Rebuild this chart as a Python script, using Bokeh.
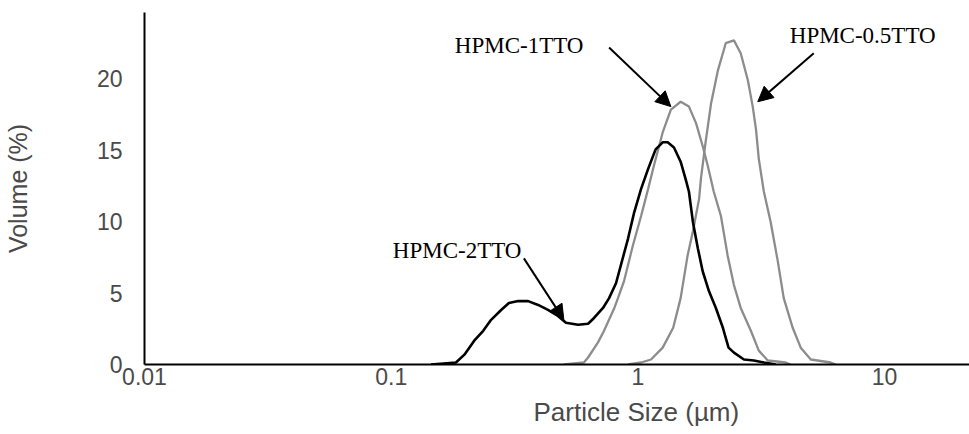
import math
from bokeh.plotting import figure
from bokeh.models import Range1d, FixedTicker, CustomJSTickFormatter, Label, Arrow, NormalHead, Title
from bokeh.embed import file_html
from bokeh.resources import INLINE

# ---- data (particle size in µm, volume in %) ----
size_2tto = [0.145, 0.183, 0.198, 0.217, 0.236, 0.254, 0.279, 0.300, 0.327, 0.359,
             0.394, 0.432, 0.474, 0.511, 0.572, 0.628, 0.664, 0.722, 0.764, 0.815,
             0.912, 0.964, 1.03, 1.10, 1.18, 1.26, 1.32, 1.40, 1.49, 1.56,
             1.61, 1.67, 1.75, 1.83, 1.94, 2.07, 2.21, 2.33, 2.45, 2.69,
             2.95, 3.24, 3.62]
vol_2tto = [0.0, 0.14, 0.69, 1.67, 2.36, 3.13, 3.82, 4.31, 4.44, 4.44,
            4.17, 3.82, 3.40, 2.92, 2.78, 2.85, 3.26, 3.96, 4.65, 5.69,
            8.82, 10.6, 12.3, 13.7, 15.07, 15.56, 15.56, 15.2, 14.2, 13.0,
            12.1, 10.0, 8.13, 6.53, 5.14, 3.96, 2.57, 1.18, 0.83, 0.35,
            0.28, 0.14, 0.0]

size_1tto = [0.501, 0.604, 0.628, 0.689, 0.728, 0.757, 0.800, 0.830, 0.878, 0.954,
             1.03, 1.10, 1.16, 1.26, 1.36, 1.49, 1.61, 1.72, 1.83, 1.92,
             2.03, 2.17, 2.31, 2.45, 2.61, 2.87, 3.09, 3.36, 3.97, 4.16]
vol_1tto = [0.0, 0.14, 0.49, 1.55, 2.35, 3.0, 3.9, 4.65, 5.83, 8.33,
            10.4, 12.3, 13.9, 16.25, 17.85, 18.4, 18.06, 16.9, 15.3, 13.9,
            12.1, 10.4, 7.64, 5.56, 3.96, 2.36, 0.97, 0.28, 0.14, 0.0]

size_05tto = [0.912, 1.03, 1.13, 1.26, 1.39, 1.49, 1.59, 1.67, 1.77, 1.80,
              1.88, 1.98, 2.11, 2.27, 2.45, 2.61, 2.79, 2.92, 3.01, 3.09,
              3.24, 3.45, 3.69, 3.90, 4.24, 4.57, 5.02, 6.04, 6.33]
vol_05tto = [0.0, 0.14, 0.35, 1.18, 2.57, 4.65, 7.64, 9.31, 11.6, 13.0,
             15.56, 18.3, 20.6, 22.5, 22.7, 21.8, 19.9, 18.06, 16.46, 14.4,
             12.1, 10.0, 7.22, 4.65, 2.57, 1.18, 0.35, 0.14, 0.0]

x_ticks = [0.01, 0.1, 1, 10]
x_tick_labels = ["0.01", "0.1", "1", "10"]
y_ticks = [0, 5, 10, 15, 20]

SANS = "Liberation Sans"
SERIF = "Liberation Serif"
TICK_COLOR = "#4a4a4a"

p = figure(width=969, height=434, x_axis_type="log",
           x_range=Range1d(0.01, 22.08), y_range=Range1d(0, 24.65),
           output_backend="svg", toolbar_location=None,
           min_border_left=143, min_border_right=0,
           min_border_top=12, min_border_bottom=67)
p.grid.visible = False
p.outline_line_color = None

p.line(size_05tto, vol_05tto, line_color="#8c8c8c", line_width=2.3)
p.line(size_1tto, vol_1tto, line_color="#8c8c8c", line_width=2.3)
p.line(size_2tto, vol_2tto, line_color="#000000", line_width=2.6)

p.xaxis.ticker = FixedTicker(ticks=x_ticks)
p.xaxis.formatter = CustomJSTickFormatter(
    args=dict(vals=x_ticks, labels=x_tick_labels),
    code="const i = vals.findIndex(v => Math.abs(v - tick) < 1e-9 * Math.max(1, Math.abs(v))); return i >= 0 ? labels[i] : '';")
p.yaxis.ticker = FixedTicker(ticks=y_ticks)

for ax in (p.xaxis, p.yaxis):
    ax.axis_line_color = "black"
    ax.axis_line_width = 2
    ax.major_tick_line_color = None
    ax.minor_tick_line_color = None
    ax.major_label_text_font = SANS
    ax.major_label_text_font_size = "23px"
    ax.major_label_text_color = TICK_COLOR
p.xaxis.major_label_standoff = -3
p.yaxis.major_label_standoff = 16

# y axis title
p.yaxis.axis_label = "Volume (%)"
p.yaxis.axis_label_standoff = 62
p.yaxis.axis_label_text_font = SANS
p.yaxis.axis_label_text_font_size = "25px"
p.yaxis.axis_label_text_font_style = "normal"
p.yaxis.axis_label_text_color = TICK_COLOR

# x axis title (offset to the right like the original)
p.add_layout(Title(text="Particle Size (µm)", align="left", offset=389, standoff=15,
                   text_font=SANS, text_font_size="26px", text_font_style="normal",
                   text_color=TICK_COLOR), "below")

# annotations
for (tx, ty, txt) in [(0.330, 22.36, "HPMC-1TTO"), (8.15, 23.06, "HPMC-0.5TTO"),
                      (0.185, 7.99, "HPMC-2TTO")]:
    p.add_layout(Label(x=tx, y=ty, text=txt, text_align="center", text_baseline="middle",
                       text_font=SERIF, text_font_size="23px", text_color="black"))

for (xs, ys, xe, ye) in [(0.764, 22.2, 1.36, 18.06), (5.16, 21.8, 3.06, 18.4),
                         (0.345, 7.43, 0.501, 3.125)]:
    p.add_layout(Arrow(end=NormalHead(size=15, fill_color="black", line_color="black"),
                       x_start=xs, y_start=ys, x_end=xe, y_end=ye,
                       line_color="black", line_width=2))

open("out.html", "w").write(file_html(p, INLINE))
